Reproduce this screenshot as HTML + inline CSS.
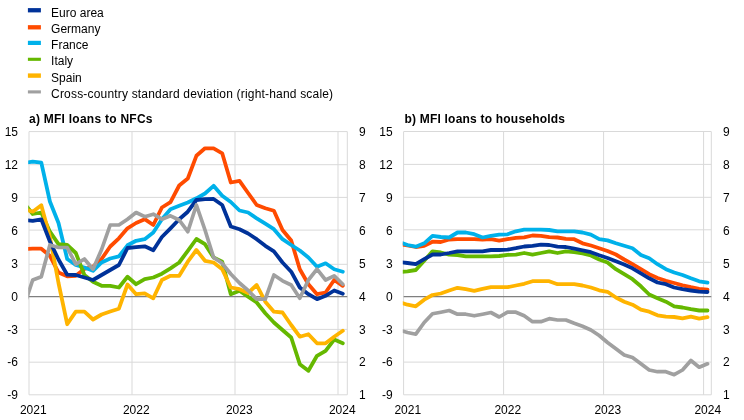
<!DOCTYPE html>
<html><head><meta charset="utf-8"><title>MFI loans</title>
<style>
html,body{margin:0;padding:0;background:#fff;}
body{width:744px;height:420px;overflow:hidden;}
svg{display:block;}
svg text{font-family:"Liberation Sans",Arial,sans-serif;font-size:12px;fill:#000;}
svg text.t{font-weight:bold;font-size:12px;}
</style></head><body>
<svg width="744" height="420" viewBox="0 0 744 420" style="will-change:transform">
<rect width="744" height="420" fill="#fff"/>
<rect x="27.9" y="8.10" width="13" height="4.3" fill="#003299"/>
<text x="51.1" y="16.9">Euro area</text>
<rect x="27.9" y="25.15" width="13" height="4.3" fill="#FF4B00"/>
<text x="51.1" y="33.0">Germany</text>
<rect x="27.9" y="40.80" width="13" height="4.2" fill="#00B1EA"/>
<text x="51.1" y="49.2">France</text>
<rect x="27.9" y="57.75" width="13" height="3.1" fill="#65B800"/>
<text x="51.1" y="65.3">Italy</text>
<rect x="27.9" y="73.40" width="13" height="4.4" fill="#FFB400"/>
<text x="51.1" y="81.5">Spain</text>
<rect x="27.9" y="90.35" width="13" height="3.1" fill="#A0A0A0"/>
<text x="51.1" y="97.7" textLength="282" lengthAdjust="spacing">Cross-country standard deviation (right-hand scale)</text>
<text class="t" x="29" y="122.5" textLength="123.5" lengthAdjust="spacing">a) MFI loans to NFCs</text>
<text class="t" x="404.5" y="122.5" textLength="160.5" lengthAdjust="spacing">b) MFI loans to households</text>
<clipPath id="ca"><rect x="28.2" y="126.6" width="323.3" height="273.2"/></clipPath>
<line x1="29.0" y1="131.6" x2="347.3" y2="131.6" stroke="#D9D9D9" stroke-width="1"/>
<line x1="29.0" y1="164.7" x2="347.3" y2="164.7" stroke="#D9D9D9" stroke-width="1"/>
<line x1="29.0" y1="197.4" x2="347.3" y2="197.4" stroke="#D9D9D9" stroke-width="1"/>
<line x1="29.0" y1="230.1" x2="347.3" y2="230.1" stroke="#D9D9D9" stroke-width="1"/>
<line x1="29.0" y1="264.3" x2="347.3" y2="264.3" stroke="#D9D9D9" stroke-width="1"/>
<line x1="29.0" y1="329.4" x2="347.3" y2="329.4" stroke="#D9D9D9" stroke-width="1"/>
<line x1="29.0" y1="362.2" x2="347.3" y2="362.2" stroke="#D9D9D9" stroke-width="1"/>
<line x1="29.0" y1="394.8" x2="347.3" y2="394.8" stroke="#D9D9D9" stroke-width="1"/>
<line x1="29.0" y1="131.6" x2="29.0" y2="394.8" stroke="#D9D9D9" stroke-width="1"/>
<line x1="132.0" y1="131.6" x2="132.0" y2="394.8" stroke="#D9D9D9" stroke-width="1"/>
<line x1="235.0" y1="131.6" x2="235.0" y2="394.8" stroke="#D9D9D9" stroke-width="1"/>
<line x1="338.0" y1="131.6" x2="338.0" y2="394.8" stroke="#D9D9D9" stroke-width="1"/>
<line x1="347.3" y1="131.6" x2="347.3" y2="394.8" stroke="#D9D9D9" stroke-width="1"/>
<line x1="29.0" y1="296.6" x2="347.3" y2="296.6" stroke="#7F7F7F" stroke-width="1.3"/>
<g clip-path="url(#ca)" fill="none" stroke-linejoin="round" stroke-linecap="round">
<polyline points="24.1,249.0 32.7,248.7 41.3,248.7 49.9,255.8 58.5,272.5 67.2,276.3 75.8,275.8 84.4,269.0 93.0,266.7 101.6,259.0 110.2,246.5 118.9,238.3 127.5,228.3 136.1,223.0 144.7,219.2 153.3,225.0 161.9,207.5 170.5,202.2 179.2,185.5 187.8,178.5 196.4,155.8 205.0,148.3 213.6,148.3 222.2,153.3 230.8,182.5 239.5,180.8 248.1,193.0 256.7,205.0 265.3,208.3 273.9,210.8 282.5,230.0 291.2,240.5 299.8,269.2 308.4,284.2 317.0,294.2 325.6,292.5 334.2,280.0 342.8,285.8" stroke="#FF4B00" stroke-width="3.8"/>
<polyline points="24.1,163.0 32.7,161.6 41.3,162.7 49.9,201.5 58.5,223.0 67.2,259.0 75.8,265.0 84.4,267.5 93.0,270.8 101.6,262.5 110.2,258.5 118.9,256.3 127.5,245.3 136.1,240.8 144.7,239.2 153.3,232.5 161.9,219.2 170.5,209.2 179.2,205.8 187.8,202.5 196.4,198.3 205.0,193.5 213.6,185.8 222.2,195.8 230.8,202.0 239.5,210.5 248.1,212.5 256.7,218.3 265.3,223.7 273.9,229.2 282.5,239.2 291.2,245.0 299.8,250.5 308.4,257.5 317.0,266.7 325.6,263.3 334.2,269.2 342.8,271.7" stroke="#00B1EA" stroke-width="3.8"/>
<polyline points="24.1,203.0 32.7,214.0 41.3,212.5 49.9,231.7 58.5,244.2 67.2,245.0 75.8,253.0 84.4,275.0 93.0,281.7 101.6,285.8 110.2,285.8 118.9,287.5 127.5,276.7 136.1,284.2 144.7,279.2 153.3,277.5 161.9,273.7 170.5,268.3 179.2,262.5 187.8,250.8 196.4,239.0 205.0,244.2 213.6,257.5 222.2,261.7 230.8,294.2 239.5,290.8 248.1,296.7 256.7,302.5 265.3,313.3 273.9,322.5 282.5,330.0 291.2,337.5 299.8,364.2 308.4,370.8 317.0,355.8 325.6,350.8 334.2,339.5 342.8,343.3" stroke="#65B800" stroke-width="3.8"/>
<polyline points="24.1,209.0 32.7,211.7 41.3,205.2 49.9,237.0 58.5,283.0 67.2,324.2 75.8,311.7 84.4,311.7 93.0,319.5 101.6,314.5 110.2,311.5 118.9,308.7 127.5,284.5 136.1,294.2 144.7,293.3 153.3,298.3 161.9,280.0 170.5,275.8 179.2,275.8 187.8,261.7 196.4,250.0 205.0,260.8 213.6,262.5 222.2,269.2 230.8,287.5 239.5,289.2 248.1,293.0 256.7,285.0 265.3,301.7 273.9,311.7 282.5,312.5 291.2,325.0 299.8,336.7 308.4,334.2 317.0,343.3 325.6,343.3 334.2,336.7 342.8,330.8" stroke="#FFB400" stroke-width="3.8"/>
<polyline points="24.1,220.0 32.7,220.8 41.3,219.3 49.9,241.5 58.5,259.5 67.2,274.7 75.8,275.0 84.4,277.5 93.0,280.0 101.6,275.0 110.2,270.0 118.9,265.0 127.5,248.0 136.1,247.2 144.7,246.3 153.3,250.2 161.9,237.0 170.5,228.3 179.2,219.2 187.8,211.7 196.4,200.0 205.0,199.2 213.6,199.0 222.2,205.0 230.8,226.5 239.5,229.2 248.1,233.5 256.7,239.2 265.3,245.8 273.9,251.3 282.5,262.5 291.2,271.7 299.8,287.5 308.4,294.2 317.0,299.2 325.6,295.8 334.2,290.5 342.8,293.7" stroke="#003299" stroke-width="3.8"/>
<polyline points="24.1,306.0 32.7,280.0 41.3,276.7 49.9,245.0 58.5,247.5 67.2,247.5 75.8,264.2 84.4,259.0 93.0,269.2 101.6,249.5 110.2,225.0 118.9,225.0 127.5,219.2 136.1,212.5 144.7,216.7 153.3,214.2 161.9,219.2 170.5,215.8 179.2,220.0 187.8,231.7 196.4,205.0 205.0,230.0 213.6,257.5 222.2,263.3 230.8,274.0 239.5,283.0 248.1,290.5 256.7,299.2 265.3,299.2 273.9,275.0 282.5,280.8 291.2,285.0 299.8,298.3 308.4,280.0 317.0,269.2 325.6,280.0 334.2,275.8 342.8,284.2" stroke="#A0A0A0" stroke-width="3.7"/>
</g>
<text x="18.0" y="136.1" text-anchor="end">15</text>
<text x="358.9" y="136.1">9</text>
<text x="18.0" y="169.0" text-anchor="end">12</text>
<text x="358.9" y="169.0">8</text>
<text x="18.0" y="201.9" text-anchor="end">9</text>
<text x="358.9" y="201.9">7</text>
<text x="18.0" y="234.8" text-anchor="end">6</text>
<text x="358.9" y="234.8">6</text>
<text x="18.0" y="267.7" text-anchor="end">3</text>
<text x="358.9" y="267.7">5</text>
<text x="18.0" y="300.6" text-anchor="end">0</text>
<text x="358.9" y="300.6">4</text>
<text x="18.0" y="333.5" text-anchor="end">-3</text>
<text x="358.9" y="333.5">3</text>
<text x="18.0" y="366.4" text-anchor="end">-6</text>
<text x="358.9" y="366.4">2</text>
<text x="18.0" y="399.3" text-anchor="end">-9</text>
<text x="358.9" y="399.3">1</text>
<text x="33.3" y="413.6" text-anchor="middle">2021</text>
<text x="136.3" y="413.6" text-anchor="middle">2022</text>
<text x="239.3" y="413.6" text-anchor="middle">2023</text>
<text x="342.3" y="413.6" text-anchor="middle">2024</text>
<clipPath id="cb"><rect x="402.8" y="126.6" width="312.6" height="273.2"/></clipPath>
<line x1="403.65" y1="131.5" x2="711.3" y2="131.5" stroke="#D9D9D9" stroke-width="1"/>
<line x1="403.65" y1="164.4" x2="711.3" y2="164.4" stroke="#D9D9D9" stroke-width="1"/>
<line x1="403.65" y1="197.3" x2="711.3" y2="197.3" stroke="#D9D9D9" stroke-width="1"/>
<line x1="403.65" y1="229.8" x2="711.3" y2="229.8" stroke="#D9D9D9" stroke-width="1"/>
<line x1="403.65" y1="262.4" x2="711.3" y2="262.4" stroke="#D9D9D9" stroke-width="1"/>
<line x1="403.65" y1="329.3" x2="711.3" y2="329.3" stroke="#D9D9D9" stroke-width="1"/>
<line x1="403.65" y1="362.1" x2="711.3" y2="362.1" stroke="#D9D9D9" stroke-width="1"/>
<line x1="403.65" y1="394.8" x2="711.3" y2="394.8" stroke="#D9D9D9" stroke-width="1"/>
<line x1="403.6" y1="131.6" x2="403.6" y2="394.8" stroke="#D9D9D9" stroke-width="1"/>
<line x1="503.6" y1="131.6" x2="503.6" y2="394.8" stroke="#D9D9D9" stroke-width="1"/>
<line x1="603.6" y1="131.6" x2="603.6" y2="394.8" stroke="#D9D9D9" stroke-width="1"/>
<line x1="703.6" y1="131.6" x2="703.6" y2="394.8" stroke="#D9D9D9" stroke-width="1"/>
<line x1="711.3" y1="131.6" x2="711.3" y2="394.8" stroke="#D9D9D9" stroke-width="1"/>
<line x1="403.65" y1="296.6" x2="711.3" y2="296.6" stroke="#7F7F7F" stroke-width="1.3"/>
<g clip-path="url(#cb)" fill="none" stroke-linejoin="round" stroke-linecap="round">
<polyline points="399.2,244.0 407.5,245.5 415.8,247.0 424.2,245.8 432.5,241.7 440.8,242.0 449.2,239.5 457.5,239.2 465.8,239.2 474.2,239.2 482.5,239.5 490.9,239.2 499.2,240.6 507.5,239.2 515.9,237.8 524.2,237.3 532.5,235.5 540.9,235.8 549.2,237.2 557.5,237.5 565.9,238.8 574.2,239.2 582.5,243.3 590.9,245.5 599.2,248.3 607.5,251.0 615.9,254.5 624.2,259.5 632.5,264.2 640.9,269.2 649.2,274.2 657.5,278.0 665.9,280.8 674.2,283.0 682.5,285.3 690.9,287.2 699.2,288.8 707.5,289.7" stroke="#FF4B00" stroke-width="3.8"/>
<polyline points="399.2,242.0 407.5,245.0 415.8,246.7 424.2,243.3 432.5,235.8 440.8,237.0 449.2,237.5 457.5,232.5 465.8,232.5 474.2,234.2 482.5,237.5 490.9,235.8 499.2,234.6 507.5,234.3 515.9,231.3 524.2,229.7 532.5,229.7 540.9,229.7 549.2,230.0 557.5,231.3 565.9,231.3 574.2,231.3 582.5,232.5 590.9,234.7 599.2,239.2 607.5,240.4 615.9,243.3 624.2,245.8 632.5,248.3 640.9,255.0 649.2,258.3 657.5,264.2 665.9,269.2 674.2,272.5 682.5,275.0 690.9,278.3 699.2,281.3 707.5,282.7" stroke="#00B1EA" stroke-width="3.8"/>
<polyline points="399.2,272.0 407.5,271.3 415.8,270.0 424.2,260.8 432.5,251.3 440.8,252.5 449.2,254.7 457.5,255.0 465.8,256.3 474.2,256.3 482.5,256.3 490.9,256.3 499.2,256.0 507.5,254.8 515.9,254.6 524.2,253.0 532.5,254.7 540.9,253.0 549.2,251.3 557.5,253.0 565.9,251.3 574.2,252.2 582.5,253.3 590.9,255.5 599.2,259.5 607.5,262.5 615.9,269.2 624.2,274.2 632.5,279.2 640.9,286.3 649.2,294.5 657.5,298.3 665.9,301.7 674.2,306.3 682.5,307.5 690.9,309.2 699.2,310.5 707.5,310.5" stroke="#65B800" stroke-width="3.8"/>
<polyline points="399.2,302.0 407.5,304.7 415.8,306.3 424.2,299.7 432.5,295.0 440.8,293.5 449.2,290.5 457.5,287.8 465.8,289.2 474.2,290.8 482.5,288.8 490.9,287.2 499.2,287.2 507.5,287.2 515.9,285.5 524.2,283.8 532.5,281.2 540.9,281.2 549.2,281.2 557.5,284.2 565.9,284.2 574.2,284.2 582.5,285.5 590.9,287.5 599.2,290.3 607.5,291.8 615.9,297.5 624.2,301.7 632.5,304.7 640.9,309.7 649.2,311.7 657.5,315.3 665.9,316.7 674.2,317.0 682.5,318.3 690.9,316.7 699.2,318.7 707.5,317.2" stroke="#FFB400" stroke-width="3.8"/>
<polyline points="399.2,262.0 407.5,263.0 415.8,264.2 424.2,259.2 432.5,254.5 440.8,254.5 449.2,253.0 457.5,251.3 465.8,251.3 474.2,251.3 482.5,251.3 490.9,250.0 499.2,250.0 507.5,249.7 515.9,248.2 524.2,246.5 532.5,245.8 540.9,244.7 549.2,245.0 557.5,246.7 565.9,247.0 574.2,248.7 582.5,250.3 590.9,252.2 599.2,255.3 607.5,258.0 615.9,261.3 624.2,264.5 632.5,268.3 640.9,273.3 649.2,278.3 657.5,282.5 665.9,284.2 674.2,287.5 682.5,289.2 690.9,290.5 699.2,291.7 707.5,292.0" stroke="#003299" stroke-width="3.8"/>
<polyline points="399.2,330.0 407.5,332.5 415.8,334.2 424.2,322.5 432.5,313.8 440.8,312.2 449.2,310.5 457.5,314.2 465.8,314.2 474.2,315.8 482.5,314.2 490.9,312.5 499.2,317.0 507.5,312.2 515.9,312.2 524.2,315.8 532.5,321.7 540.9,321.7 549.2,318.7 557.5,320.0 565.9,320.0 574.2,323.3 582.5,326.2 590.9,330.0 599.2,335.5 607.5,342.5 615.9,348.8 624.2,355.0 632.5,357.5 640.9,363.8 649.2,370.0 657.5,371.7 665.9,371.7 674.2,374.7 682.5,370.0 690.9,360.5 699.2,367.2 707.5,363.8" stroke="#A0A0A0" stroke-width="3.7"/>
</g>
<text x="392.6" y="136.1" text-anchor="end">15</text>
<text x="722.9" y="136.1">9</text>
<text x="392.6" y="169.0" text-anchor="end">12</text>
<text x="722.9" y="169.0">8</text>
<text x="392.6" y="201.9" text-anchor="end">9</text>
<text x="722.9" y="201.9">7</text>
<text x="392.6" y="234.8" text-anchor="end">6</text>
<text x="722.9" y="234.8">6</text>
<text x="392.6" y="267.7" text-anchor="end">3</text>
<text x="722.9" y="267.7">5</text>
<text x="392.6" y="300.6" text-anchor="end">0</text>
<text x="722.9" y="300.6">4</text>
<text x="392.6" y="333.5" text-anchor="end">-3</text>
<text x="722.9" y="333.5">3</text>
<text x="392.6" y="366.4" text-anchor="end">-6</text>
<text x="722.9" y="366.4">2</text>
<text x="392.6" y="399.3" text-anchor="end">-9</text>
<text x="722.9" y="399.3">1</text>
<text x="407.8" y="413.6" text-anchor="middle">2021</text>
<text x="507.8" y="413.6" text-anchor="middle">2022</text>
<text x="607.8" y="413.6" text-anchor="middle">2023</text>
<text x="707.8" y="413.6" text-anchor="middle">2024</text>
</svg>
</body></html>
